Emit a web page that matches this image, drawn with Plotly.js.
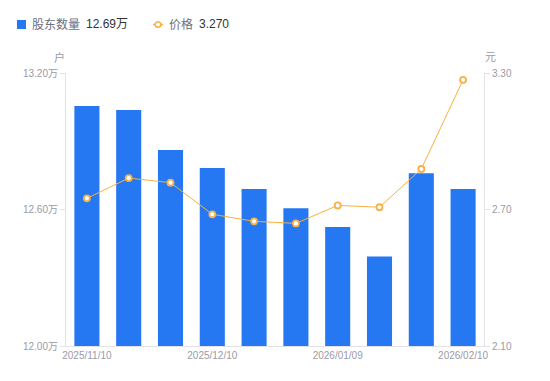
<!DOCTYPE html>
<html><head><meta charset="utf-8">
<script src="https://cdn.plot.ly/plotly-3.0.1.min.js"></script>
<style>html,body{margin:0;padding:0;background:#fff}#c{width:550px;height:381px}</style>
</head><body><div id="c"></div>
<script>
const dates = ['2025/11/10','2025/11/20','2025/11/30','2025/12/10','2025/12/20','2025/12/31','2026/01/09','2026/01/20','2026/01/31','2026/02/10'];
const holders = [13.055, 13.037, 12.862, 12.782, 12.690, 12.605, 12.523, 12.393, 12.759, 12.690];
const prices = [2.749, 2.838, 2.818, 2.679, 2.648, 2.639, 2.718, 2.710, 2.878, 3.270];
const shownTicks = ['2025/11/10','2025/12/10','2026/01/09','2026/02/10'];
const leftTickVals = [12.0, 12.6, 13.2];
const leftTickText = ['12.00万','12.60万','13.20万'];
const rightTickVals = [2.1, 2.7, 3.3];
const rightTickText = ['2.10','2.70','3.30'];
const legendHolder = '12.69万';
const legendPrice = '3.270';

const L=66, R=484, T=73, B=346, W=550, H=381;
const px = x => (x-L)/(R-L);
const py = y => (B-y)/(B-T);
const FONT = 'Liberation Sans, Arial, Noto Sans CJK SC, sans-serif';
const gray = '#9a9aa6', axisCol = '#e2e2e8';
const blue = '#2677f2', orange = '#f8b142';

const traces = [
  {type:'bar', x:dates, y:holders, yaxis:'y', width:0.6, marker:{color:blue}, hoverinfo:'skip', showlegend:false},
  {type:'scatter', mode:'lines+markers', x:dates, y:prices, yaxis:'y2',
   line:{color:orange, width:1}, marker:{symbol:'circle', size:6, color:'#fff', line:{color:orange, width:1.8}},
   hoverinfo:'skip', showlegend:false}
];
const layout = {
  width:W, height:H, margin:{l:L, r:W-R, t:T, b:H-B},
  paper_bgcolor:'#fff', plot_bgcolor:'#fff', showlegend:false,
  font:{family:FONT, size:10, color:gray},
  xaxis:{type:'category', range:[-0.5, 9.5], tickmode:'array', tickvals:shownTicks, ticktext:shownTicks,
    showline:true, linecolor:axisCol, linewidth:1, showgrid:false, zeroline:false, ticks:'', ticklen:0,
    tickfont:{size:10, color:gray}},
  yaxis:{range:[12.0, 13.2], tickmode:'array', tickvals:leftTickVals, ticktext:leftTickText,
    showline:true, linecolor:axisCol, showgrid:false, zeroline:false, ticks:'outside', ticklen:5, tickcolor:axisCol,
    tickfont:{size:10, color:gray}},
  yaxis2:{range:[2.1, 3.3], tickmode:'array', tickvals:rightTickVals, ticktext:rightTickText, overlaying:'y', side:'right',
    showline:true, linecolor:axisCol, showgrid:false, zeroline:false, ticks:'outside', ticklen:5, tickcolor:axisCol,
    tickfont:{size:10, color:gray}},
  shapes:[
    {type:'rect', xref:'paper', yref:'paper', xsizemode:'pixel', ysizemode:'pixel', xanchor:px(21.5), yanchor:py(24.5),
     x0:-4.5, x1:4.5, y0:-4.5, y1:4.5, fillcolor:blue, line:{width:0}},
    {type:'line', xref:'paper', yref:'paper', x0:px(153), x1:px(163), y0:py(24.5), y1:py(24.5), line:{color:orange, width:1.5}},
    {type:'circle', xref:'paper', yref:'paper', xsizemode:'pixel', ysizemode:'pixel', xanchor:px(158), yanchor:py(24.5),
     x0:-2.8, x1:2.8, y0:-2.8, y1:2.8, fillcolor:'#fff', line:{color:orange, width:1.6}}
  ],
  annotations:[
    {xref:'paper', yref:'paper', x:px(30), y:py(24.5), xanchor:'left', yanchor:'middle', showarrow:false, text:'股东数量', font:{size:12, color:'#6e6e7e'}},
    {xref:'paper', yref:'paper', x:px(84), y:py(24.5), xanchor:'left', yanchor:'middle', showarrow:false, text:legendHolder, font:{size:12, color:'#333'}},
    {xref:'paper', yref:'paper', x:px(167), y:py(24.5), xanchor:'left', yanchor:'middle', showarrow:false, text:'价格', font:{size:12, color:'#6e6e7e'}},
    {xref:'paper', yref:'paper', x:px(197), y:py(24.5), xanchor:'left', yanchor:'middle', showarrow:false, text:legendPrice, font:{size:12, color:'#333'}},
    {xref:'paper', yref:'paper', x:px(59), y:py(57), xanchor:'center', yanchor:'middle', showarrow:false, text:'户', font:{size:11, color:gray}},
    {xref:'paper', yref:'paper', x:px(490), y:py(57), xanchor:'center', yanchor:'middle', showarrow:false, text:'元', font:{size:11, color:gray}}
  ]
};
Plotly.newPlot('c', traces, layout, {staticPlot:true, displayModeBar:false});
</script></body></html>
